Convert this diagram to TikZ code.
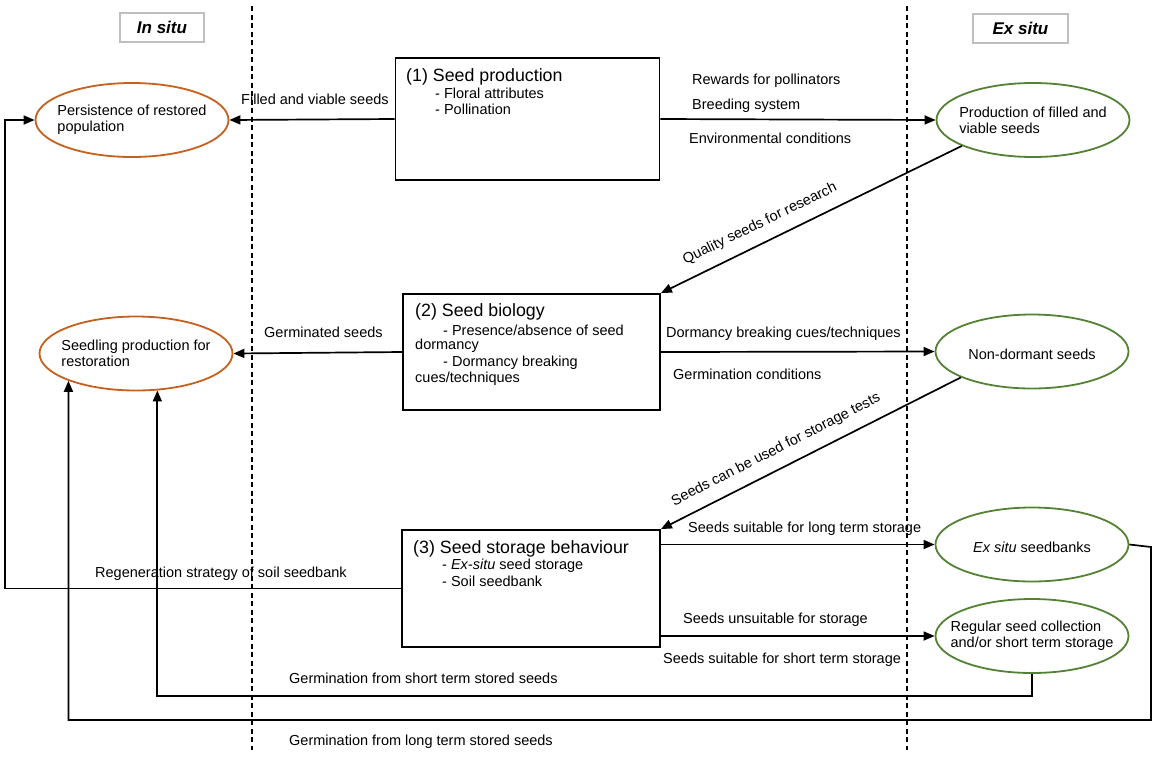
\documentclass[tikz,border=0pt]{standalone}
\usepackage{fontspec}
\setmainfont{Liberation Sans}
\usetikzlibrary{arrows.meta,shapes.geometric}
\definecolor{orng}{RGB}{197,96,30}
\definecolor{grn}{RGB}{84,130,53}
\definecolor{lgray}{RGB}{190,190,190}
\begin{document}
\begin{tikzpicture}[x=1pt,y=-1pt,
  txt/.style={font=\fontsize{14.5}{16}\selectfont, inner sep=0pt},
  ttl/.style={font=\fontsize{17.8}{20}\selectfont, inner sep=0pt, anchor=base west},
  lbl/.style={txt, anchor=base west},
  ell/.style={ellipse, draw, line width=1.8pt, minimum width=193pt, minimum height=74pt, inner xsep=-25pt, inner ysep=0pt, align=left, font=\fontsize{14.5}{16}\selectfont, execute at begin node={\rule{0pt}{16pt}}},
  oell/.style={ell, draw=orng},
  gell/.style={ell, draw=grn},
  pbox/.style={draw, line width=1.8pt, rectangle, inner sep=0pt},
  conn/.style={line width=1.7pt, -{Triangle[length=11pt,width=9pt]}},
  divider/.style={line width=2.2pt, dash pattern=on 5pt off 3.5pt},
  situ/.style={draw=lgray, line width=1.6pt, minimum width=84pt, minimum height=29pt, font=\fontsize{17}{20}\selectfont\bfseries\itshape, inner sep=0pt}
]
\useasboundingbox (0,0) rectangle (1157,756);

% dividers
\draw[divider] (252,6) -- (252,750);
\draw[divider] (907,6) -- (907,750);

% headers
\node[situ] (insitu) at (162,27.5) {In situ};
\node[situ, minimum width=95pt] (exsitu) at (1020.5,28.5) {Ex situ};

% boxes
\node[pbox, minimum width=264pt, minimum height=122pt] (b1) at (527.5,119) {};
\node[pbox, minimum width=257pt, minimum height=116pt] (b2) at (531.5,352) {};
\node[pbox, minimum width=258pt, minimum height=117pt] (b3) at (531,588.5) {};

\node[ttl] (b1t) at (406,81) {(1) Seed production};
\node[lbl] (b1a) at (435,98) {- Floral attributes};
\node[lbl] (b1b) at (435,114) {- Pollination};

\node[ttl] (b2t) at (415,316) {(2) Seed biology};
\node[lbl] (b2a) at (443,335) {- Presence/absence of seed};
\node[lbl] (b2b) at (415,349) {dormancy};
\node[lbl] (b2c) at (443,366) {- Dormancy breaking};
\node[lbl] (b2d) at (415,382) {cues/techniques};

\node[ttl] (b3t) at (413,553) {(3) Seed storage behaviour};
\node[lbl] (b3a) at (442,569) {- \textit{Ex-situ} seed storage};
\node[lbl] (b3b) at (442,586) {- Soil seedbank};

% ellipses
\node[oell] (e1) at (132,120) {Persistence of restored\\population};
\node[gell] (e2) at (1033,120) {Production of filled and\\viable seeds};
\node[oell] (e3) at (136,353.5) {Seedling production for\\restoration};
\node[gell] (e4) at (1032,351.5) {Non-dormant seeds};
\node[gell] (e5) at (1032,544.5) {\textit{Ex situ} seedbanks};
\node[gell] (e6) at (1032,636) {Regular seed collection\\and/or short term storage};

% helper coordinates
\coordinate (lft) at (5,0);
\coordinate (sb) at (0,696);
\coordinate (lb) at (0,720);
\coordinate (rt) at (1151,547);

% connectors
\draw[conn] (b1.west) -- (e1.east);
\draw[conn] (b1.east) -- (e2.west);
\draw[conn] (e2.200) -- (b2.north east);
\draw[conn] (b2.west) -- (e3.east);
\draw[conn] (b2.east) -- (e4.west);
\draw[conn] (e4.200) -- (b3.north east);
\draw[conn] (b3.east |- e5.west) -- (e5.west);
\draw[conn] (b3.east |- e6.west) -- (e6.west);
\draw[conn] (b3.west) -- (b3.west -| lft) |- (e1.west);
\draw[conn] (e6.south) -- (e6.south |- sb) -- (e3.300 |- sb) -- (e3.300);
\draw[conn] (e5.east) -- (rt) -- (rt |- lb) -- (e3.202 |- lb) -- (e3.202);

% labels
\node[lbl] (l1) at (241,104) {Filled and viable seeds};
\node[lbl] (l2) at (692,84) {Rewards for pollinators};
\node[lbl] (l3) at (692,109) {Breeding system};
\node[lbl] (l4) at (689,143) {Environmental conditions};
\node[txt, rotate=26] (l5) at (760,224) {Quality seeds for research};
\node[lbl] (l6) at (264,337) {Germinated seeds};
\node[lbl] (l7) at (666,337) {Dormancy breaking cues/techniques};
\node[lbl] (l8) at (673,379) {Germination conditions};
\node[txt, rotate=27] (l9) at (776,450) {Seeds can be used for storage tests};
\node[lbl] (l10) at (688,532) {Seeds suitable for long term storage};
\node[lbl] (l11) at (683,623) {Seeds unsuitable for storage};
\node[lbl] (l12) at (663,663) {Seeds suitable for short term storage};
\node[lbl] (l13) at (95,577) {Regeneration strategy of soil seedbank};
\node[lbl] (l14) at (289,683) {Germination from short term stored seeds};
\node[lbl] (l15) at (289,745) {Germination from long term stored seeds};
\end{tikzpicture}
\end{document}
